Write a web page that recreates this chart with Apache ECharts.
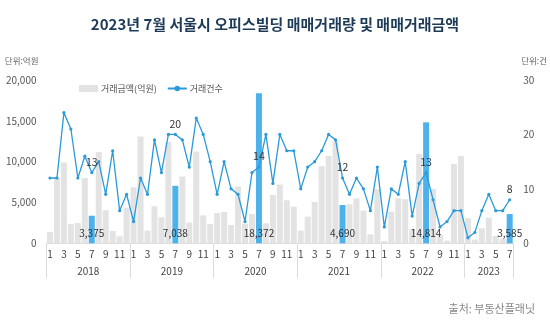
<!DOCTYPE html>
<html><head><meta charset="utf-8">
<script src="https://cdn.jsdelivr.net/npm/echarts@6/dist/echarts.min.js"></script>
<style>html,body{margin:0;padding:0;background:#fff}#c{width:550px;height:326px}</style>
</head><body><div id="c"></div>
<script>
// ---- data ----
const years = ['2018', '2019', '2020', '2021', '2022', '2023'];
const monthsInYear = [12, 12, 12, 12, 12, 7];
// 거래금액(억원)
const amounts = [
  1400, 8000, 9900, 2370, 2490, 8000, 3375, 11170, 4050, 1510, 860, 4370,
  6870, 13080, 1550, 4540, 3190, 12430, 7038, 8170, 2530, 11240, 3430, 2370,
  3720, 3840, 2240, 6950, 2400, 3600, 18372, 2450, 5930, 7200, 5270, 4490,
  1550, 3270, 5070, 9450, 10710, 12470, 4690, 4780, 5520, 4000, 1100, 6620,
  280, 3880, 5520, 5390, 1750, 10950, 14814, 6660, 1000, 320, 9720, 10710,
  3070, 440, 1840, 3140, 900, 570, 3585
];
// 거래건수
const counts = [
  12, 12, 24, 21, 12, 16, 13, 15, 9, 17, 6, 9,
  4, 12, 9, 19, 13, 20, 20, 19, 14, 23, 20, 15,
  9, 15, 10, 9, 4, 13, 14, 20, 11, 20, 17, 17,
  10, 14, 15, 17, 20, 19, 12, 9, 12, 10, 6, 14,
  3, 10, 9, 15, 5, 11, 13, 8, 3, 4, 6, 6,
  1, 2, 6, 9, 6, 6, 8
];
const highlightMonth = '7';
const leftTicks = { min: 0, max: 20000, interval: 5000 };
const rightTicks = { min: 0, max: 30, interval: 10 };

// ---- build ----
const FONT = '"Noto Sans CJK KR", "Noto Sans", sans-serif';
const cats = [], catYear = [], yearStart = [];
years.forEach((y, i) => {
  yearStart.push(cats.length);
  for (let m = 1; m <= monthsInYear[i]; m++) { cats.push(String(m)); catYear.push(y); }
});
const yearLabelIdx = {};
years.forEach((y, i) => {
  const n = monthsInYear[i];
  if (n % 2 === 0) yearLabelIdx[yearStart[i] + n / 2 - 1] = { year: y, shift: true };
  else yearLabelIdx[yearStart[i] + (n - 1) / 2] = { year: y, shift: false };
});
const fmt = v => v.toLocaleString('en-US');
const barData = amounts.map((v, i) => cats[i] === highlightMonth ? {
  value: v, itemStyle: { color: '#4db2ec' },
  label: { show: true, position: 'insideBottom', distance: 5, formatter: p => fmt(p.value),
           color: '#333', fontSize: 10, fontFamily: FONT }
} : v);
const lineData = counts.map((v, i) => cats[i] === highlightMonth ? {
  value: v, label: { show: true, position: 'top', distance: 4, color: '#333', fontSize: 10.5, fontFamily: FONT }
} : v);

const chart = echarts.init(document.getElementById('c'), null, { renderer: 'canvas' });
chart.setOption({
  animation: false,
  backgroundColor: '#fff',
  textStyle: { fontFamily: FONT },
  title: {
    text: '2023년 7월 서울시 오피스빌딩 매매거래량 및 매매거래금액',
    left: 'center', top: 12,
    textStyle: { fontSize: 15, fontWeight: 'bold', color: '#1d3a56', fontFamily: FONT }
  },
  legend: {
    left: 74, top: 79, itemWidth: 19, itemHeight: 7, itemGap: 10,
    textStyle: { fontSize: 9, color: '#555', fontFamily: FONT, padding: [0, 0, 0, -2] },
    data: [{ name: '거래금액(억원)', icon: 'rect' }, { name: '거래건수' }]
  },
  grid: { left: 46.5, right: 34.5, top: 80, bottom: 82.7 },
  xAxis: [{
    type: 'category', data: cats, position: 'bottom',
    axisLine: { lineStyle: { color: '#dcdcdc' } },
    axisTick: { show: true, length: 35, interval: i => yearStart.includes(i), lineStyle: { color: '#dcdcdc' } },
    axisLabel: { interval: 1, fontSize: 10, color: '#444', margin: 6, fontFamily: FONT }
  }, {
    type: 'category', data: cats, position: 'bottom',
    axisLine: { show: false }, axisTick: { show: false },
    axisLabel: {
      interval: i => yearLabelIdx[i] !== undefined,
      margin: 23, fontSize: 10, color: '#444', fontFamily: FONT,
      formatter: (v, i) => {
        const o = yearLabelIdx[i]; if (!o) return '';
        return o.shift ? '{s|' + o.year + '}' : o.year;
      },
      rich: { s: { padding: [0, 0, 0, 7], fontSize: 10, color: '#444', fontFamily: FONT } }
    }
  }],
  yAxis: [{
    type: 'value', ...leftTicks,
    name: '단위:억원', nameLocation: 'end', nameGap: 15,
    nameTextStyle: { fontSize: 8.5, color: '#666', align: 'right', padding: [0, 8, 0, 0], fontFamily: FONT },
    axisLine: { show: false }, axisTick: { show: false }, splitLine: { show: false },
    axisLabel: { formatter: fmt, fontSize: 10, color: '#555', margin: 10, fontFamily: FONT }
  }, {
    type: 'value', position: 'right', ...rightTicks,
    name: '단위:건', nameLocation: 'end', nameGap: 15,
    nameTextStyle: { fontSize: 8.5, color: '#666', align: 'left', padding: [0, 0, 0, 8], fontFamily: FONT },
    axisLine: { show: false }, axisTick: { show: false }, splitLine: { show: false },
    axisLabel: { fontSize: 10, color: '#555', margin: 10, fontFamily: FONT }
  }],
  series: [{
    name: '거래금액(억원)', type: 'bar', xAxisIndex: 0, yAxisIndex: 0,
    data: barData, barCategoryGap: '14%', itemStyle: { color: '#e3e3e3' }, z: 2
  }, {
    name: '거래건수', type: 'line', xAxisIndex: 0, yAxisIndex: 1,
    data: lineData, symbol: 'circle', symbolSize: 3.2, showAllSymbol: true,
    lineStyle: { color: '#2b9ad8', width: 1.3 }, itemStyle: { color: '#2b9ad8' }, z: 3
  }],
  graphic: [{
    type: 'text', right: 15, top: 303,
    style: { text: '출처: 부동산플래닛', fill: '#888', font: '11px ' + FONT }
  }]
});
</script></body></html>
